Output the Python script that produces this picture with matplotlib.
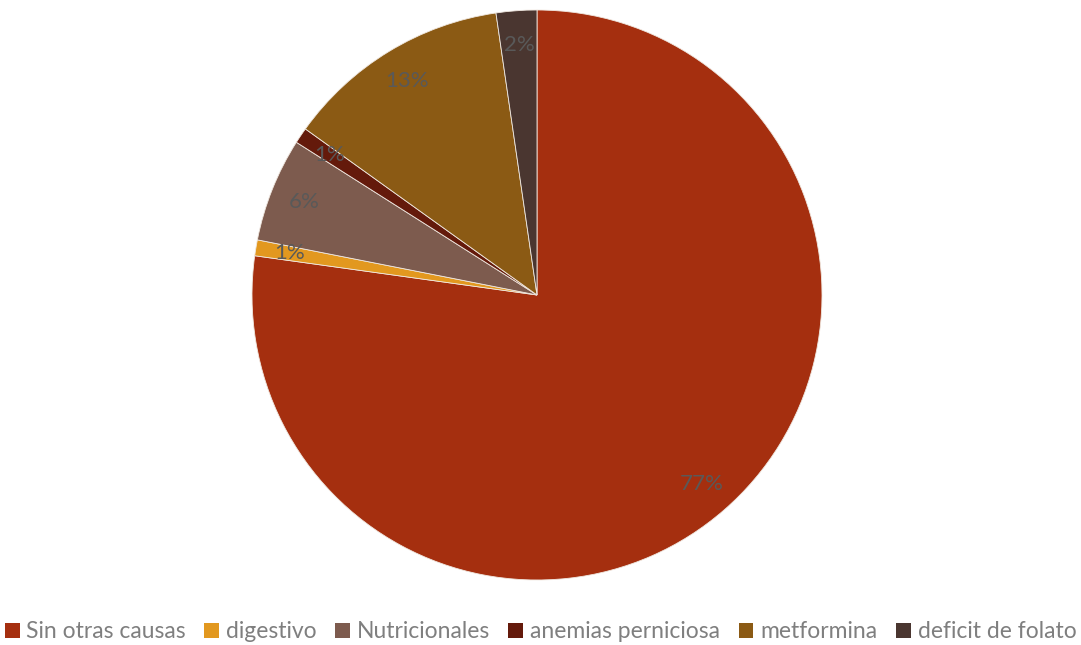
import matplotlib
matplotlib.use("Agg")
import matplotlib.pyplot as plt
from matplotlib.patches import Patch

categories = ["Sin otras causas", "digestivo", "Nutricionales",
              "anemias perniciosa", "metformina", "deficit de folato"]
values = [77.2, 0.9, 5.9, 0.9, 12.8, 2.3]
colors = ["#A52F0F", "#E2981F", "#7D5B4E", "#641A0B", "#8B5A14", "#4A3630"]

plt.rcParams["font.family"] = ["Lato", "DejaVu Sans"]

W, H = 1081, 645
fig = plt.figure(figsize=(W / 100, H / 100), dpi=100)
cx, cy, r = 537, 295, 285
ax = fig.add_axes([(cx - r) / W, (H - cy - r) / H, 2 * r / W, 2 * r / H])

wedges, texts, autotexts = ax.pie(
    values, colors=colors, startangle=90, counterclock=False,
    autopct="%1.0f%%", pctdistance=0.88, radius=1,
    wedgeprops=dict(linewidth=0.6, edgecolor="#f0e8e0"),
    textprops=dict(color="#595959", fontsize=16),
)
ax.set_xlim(-1, 1)
ax.set_ylim(-1, 1)
ax.set_aspect("equal")
ax.axis("off")

handles = [Patch(facecolor=c, edgecolor="none") for c in colors]
fig.legend(handles, categories, loc="center", bbox_to_anchor=(0.5, 1 - 632 / H),
           ncol=6, frameon=False, fontsize=16.5, handlelength=0.65, handleheight=0.65,
           handletextpad=0.3, columnspacing=0.8, labelcolor="#7F7F7F")

fig.savefig("out.png", dpi=100)
